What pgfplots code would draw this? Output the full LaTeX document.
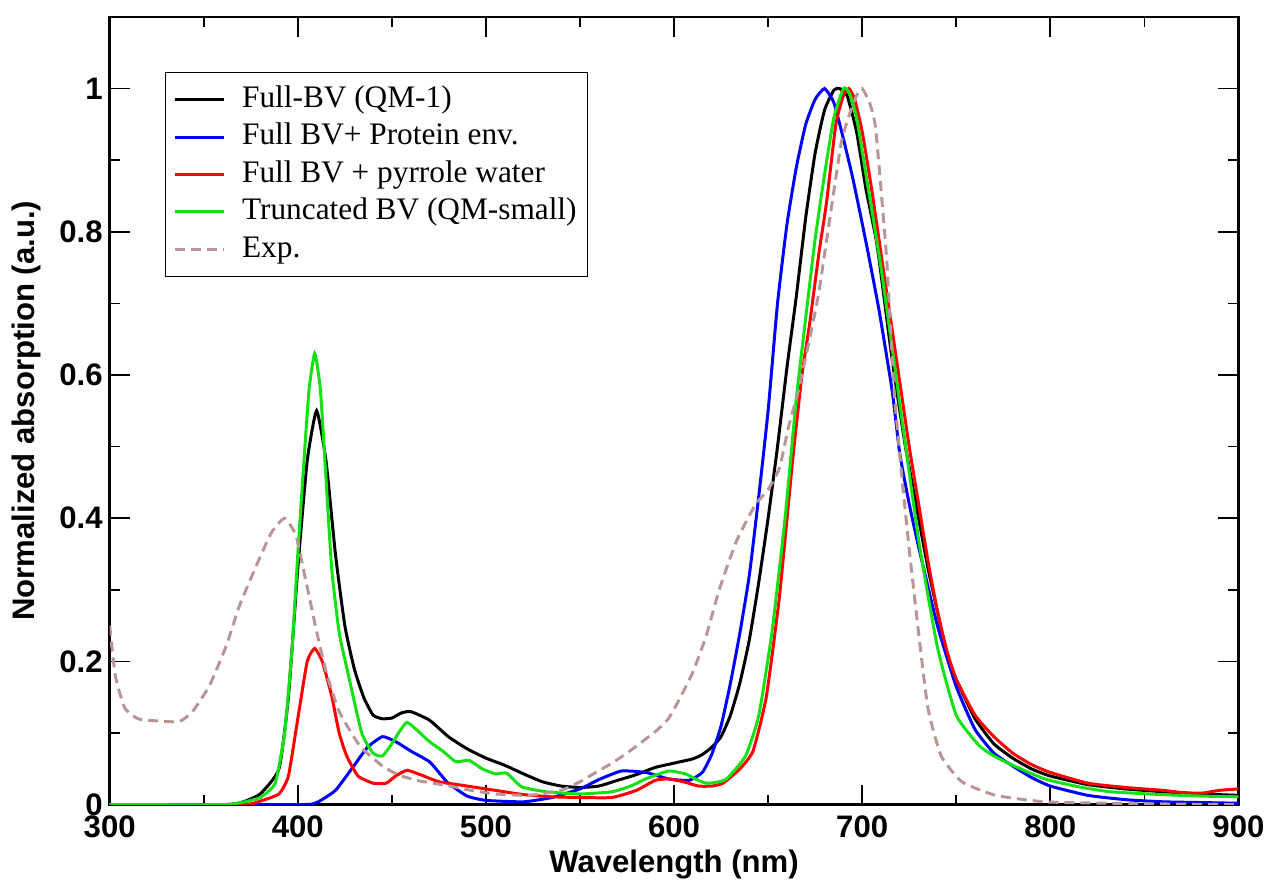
\documentclass[border=0pt]{standalone}
\usepackage{fontspec}
\setmainfont{Liberation Serif}
\setsansfont{Liberation Sans}
\usepackage{pgfplots}
\pgfplotsset{compat=1.18}
\definecolor{expc}{RGB}{185,150,150}
\definecolor{grn}{RGB}{20,225,20}
\begin{document}
\begin{tikzpicture}
\begin{axis}[
  scale only axis,
  width=566pt, height=395pt,
  xmin=300, xmax=900, ymin=0, ymax=1.1,
  xtick={300,400,...,900}, ytick={0,0.2,...,1.0},
  minor x tick num=1, minor y tick num=1,
  tick align=inside, xtick pos=both, ytick pos=both,
  major tick length=10pt, minor tick length=5pt,
  every tick/.style={black, line width=0.8pt},
  axis line style={line width=1.2pt},
  /pgf/number format/assume math mode=true,
  tick label style={font=\fontsize{15.6}{18}\sffamily\bfseries},
  x tick label style={yshift=-2pt},
  label style={font=\fontsize{15.6}{18}\sffamily\bfseries},
  xlabel={Wavelength (nm)},
  ylabel={Normalized absorption (a.u.)},
  xlabel style={at={(axis description cs:0.5,-0.0759)}, anchor=center},
  ylabel style={at={(axis description cs:-0.0738,0.5)}, anchor=center},
  legend cell align=left,
  legend style={at={(rel axis cs:0.0486,0.9304)}, anchor=north west,
    draw=black, line width=0.8pt, font=\fontsize{15.7}{18}\selectfont,
    row sep=0pt, column sep=7pt, inner xsep=4pt, inner ysep=4.25pt,
    nodes={inner sep=1.5pt, text height=11.75pt, text depth=4pt}},
  legend image code/.code={\draw[#1, line width=1.5pt] (0cm,0cm) -- (24.5pt,0cm);},
  every axis plot/.append style={line width=1.5pt, smooth, tension=0.3},
]
% Full-BV (QM-1)
\addplot[black] coordinates {
(300,0) (360,0) (370,0.003) (380,0.015) (390,0.05) (395,0.15) (400,0.33) (405,0.48) (410,0.55) (415,0.48) (420,0.35) (425,0.25) (430,0.19) (435,0.15) (440,0.125) (445,0.12) (450,0.121) (455,0.128) (460,0.13) (470,0.118) (480,0.095) (490,0.078) (500,0.065) (510,0.055) (520,0.043) (530,0.032) (540,0.026) (550,0.024) (560,0.026) (570,0.034) (580,0.042) (590,0.052) (600,0.058) (610,0.064) (615,0.07) (620,0.08) (625,0.095) (630,0.125) (635,0.17) (640,0.23) (645,0.31) (650,0.40) (655,0.50) (660,0.61) (665,0.71) (670,0.82) (675,0.91) (680,0.97) (685,0.998) (688,1.0) (692,0.99) (697,0.94) (702,0.86) (708,0.78) (716,0.62) (723,0.5) (730,0.40) (735,0.33) (740,0.27) (745,0.21) (750,0.175) (760,0.12) (770,0.085) (780,0.065) (790,0.05) (800,0.04) (820,0.028) (840,0.022) (860,0.018) (880,0.015) (900,0.013)
};
\addlegendentry{Full-BV (QM-1)}
% Full BV + Protein env.
\addplot[blue] coordinates {
(300,0) (400,0) (410,0.003) (420,0.02) (430,0.055) (437,0.08) (445,0.095) (452,0.088) (460,0.075) (470,0.06) (475,0.045) (480,0.03) (490,0.012) (500,0.006) (520,0.004) (535,0.01) (550,0.022) (560,0.035) (572,0.047) (585,0.045) (597,0.036) (608,0.034) (615,0.045) (620,0.07) (625,0.11) (630,0.17) (635,0.24) (640,0.32) (645,0.43) (650,0.55) (655,0.70) (660,0.81) (665,0.89) (670,0.95) (675,0.985) (680,1.0) (685,0.98) (690,0.93) (695,0.875) (702,0.786) (709,0.69) (716,0.577) (720,0.49) (725,0.42) (730,0.36) (740,0.25) (750,0.165) (760,0.105) (770,0.072) (780,0.054) (790,0.038) (800,0.026) (820,0.013) (840,0.007) (860,0.004) (880,0.003) (900,0.002)
};
\addlegendentry{Full BV+ Protein env.}
% Full BV + pyrrole water
\addplot[red] coordinates {
(300,0) (370,0) (380,0.005) (390,0.015) (395,0.04) (400,0.12) (405,0.2) (409,0.218) (413,0.2) (418,0.152) (422,0.1) (426,0.068) (432,0.04) (440,0.03) (447,0.03) (452,0.04) (458,0.048) (465,0.042) (475,0.032) (485,0.028) (495,0.024) (505,0.02) (520,0.014) (535,0.011) (550,0.01) (567,0.01) (580,0.02) (590,0.034) (597,0.036) (605,0.032) (613,0.026) (620,0.026) (626,0.03) (635,0.05) (642,0.075) (649,0.15) (656,0.29) (663,0.48) (668,0.6) (672,0.67) (677,0.77) (681,0.84) (686,0.95) (690,0.99) (693,1.0) (696,0.985) (700,0.94) (705,0.86) (710,0.77) (715,0.68) (720,0.59) (725,0.5) (730,0.42) (735,0.34) (740,0.27) (745,0.215) (750,0.175) (760,0.125) (770,0.095) (780,0.072) (790,0.056) (800,0.045) (820,0.03) (840,0.024) (860,0.02) (870,0.017) (880,0.016) (890,0.02) (900,0.022)
};
\addlegendentry{Full BV + pyrrole water}
% Truncated BV (QM-small)
\addplot[grn] coordinates {
(300,0) (360,0) (370,0.003) (380,0.01) (388,0.03) (393,0.1) (397,0.22) (400,0.35) (403,0.47) (406,0.58) (409,0.63) (412,0.58) (415,0.455) (418,0.33) (422,0.24) (427,0.18) (434,0.1) (440,0.072) (445,0.068) (450,0.085) (454,0.102) (458,0.115) (463,0.105) (470,0.088) (477,0.075) (484,0.06) (491,0.062) (498,0.05) (505,0.043) (511,0.044) (519,0.025) (532,0.018) (550,0.015) (567,0.018) (577,0.026) (585,0.036) (597,0.047) (606,0.043) (612,0.035) (617,0.03) (622,0.031) (628,0.036) (638,0.068) (645,0.124) (652,0.24) (659,0.4) (665,0.567) (670,0.68) (675,0.79) (680,0.88) (685,0.96) (690,1.0) (693,0.995) (697,0.96) (702,0.88) (710,0.75) (720,0.56) (730,0.37) (740,0.22) (750,0.125) (762,0.083) (770,0.068) (780,0.055) (797,0.036) (815,0.025) (832,0.018) (860,0.014) (880,0.012) (900,0.011)
};
\addlegendentry{Truncated BV (QM-small)}
% Exp.
\addplot[expc, dash pattern=on 5pt off 3pt] coordinates {
(300,0.25) (303,0.18) (308,0.135) (315,0.12) (325,0.117) (337,0.116) (344,0.13) (353,0.166) (362,0.222) (369,0.278) (378,0.334) (386,0.38) (393,0.4) (399,0.376) (404,0.316) (410,0.242) (415,0.186) (422,0.13) (433,0.082) (445,0.054) (454,0.041) (465,0.033) (479,0.027) (492,0.02) (505,0.015) (523,0.013) (540,0.02) (550,0.032) (559,0.046) (567,0.058) (576,0.074) (590,0.102) (597,0.12) (603,0.148) (610,0.185) (617,0.235) (624,0.30) (633,0.367) (643,0.418) (650,0.44) (656,0.47) (661,0.529) (666,0.577) (672,0.65) (677,0.716) (684,0.84) (689,0.926) (693,0.962) (697,0.99) (700,1.0) (704,0.98) (707,0.948) (710,0.86) (713,0.763) (715,0.669) (717,0.577) (721,0.46) (725,0.357) (730,0.24) (735,0.134) (742,0.068) (753,0.032) (771,0.013) (797,0.004) (830,0.002) (860,0.001) (900,0)
};
\addlegendentry{Exp.}
\end{axis}
\path ([shift={(-55pt,-38pt)}]current axis.south west) rectangle ([shift={(14.5pt,8.5pt)}]current axis.north east);
\end{tikzpicture}
\end{document}
